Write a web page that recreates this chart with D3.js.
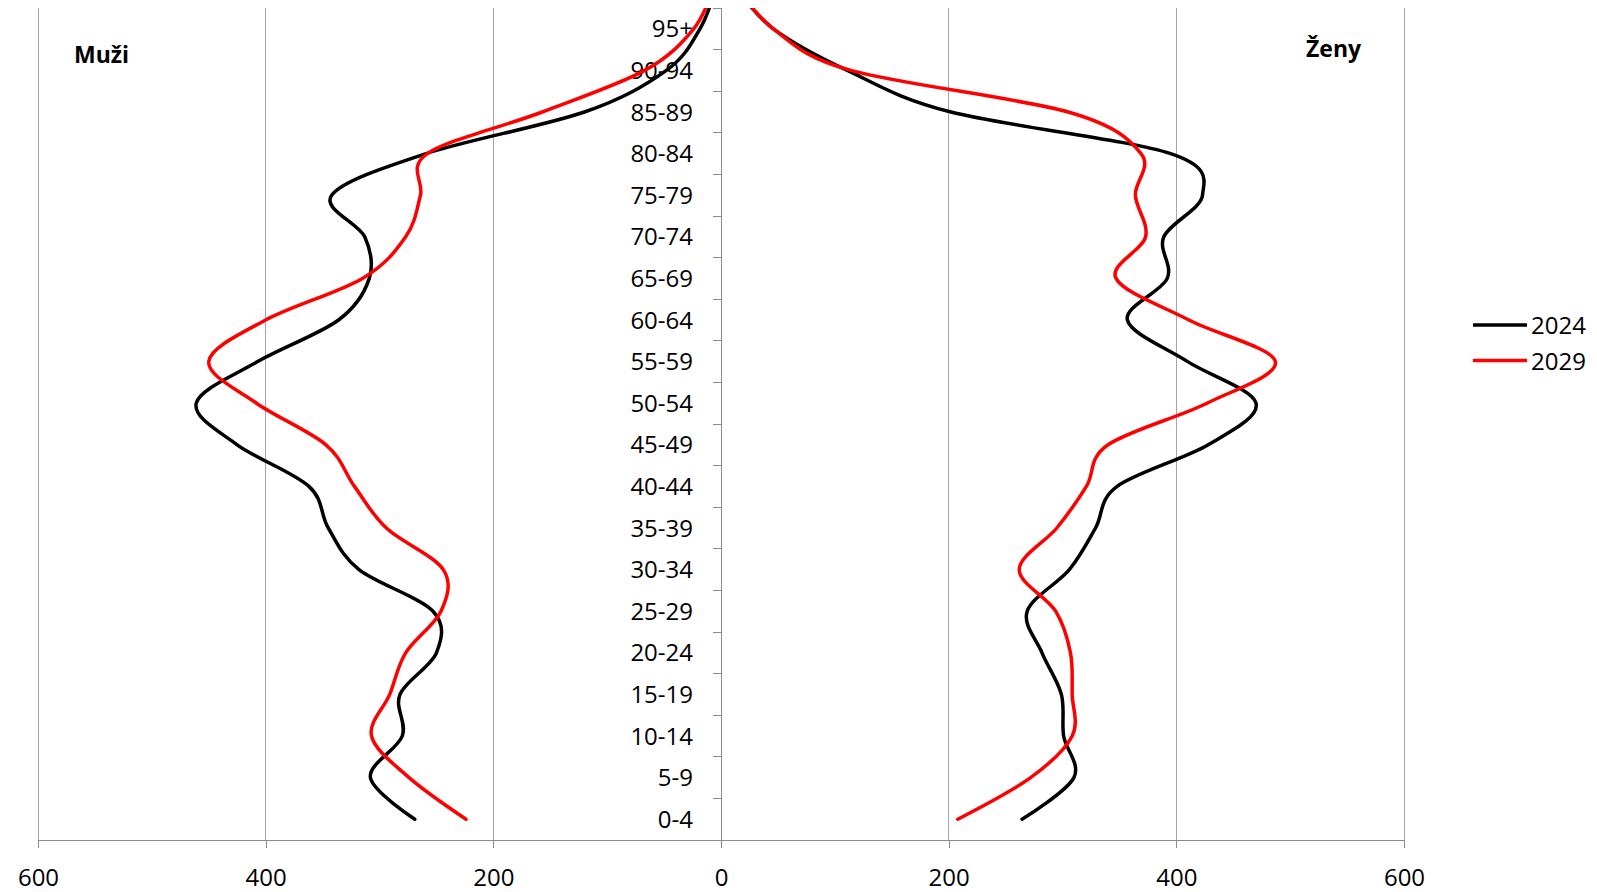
<!DOCTYPE html>
<html>
<head>
<meta charset="utf-8">
<script src="https://cdn.jsdelivr.net/npm/d3@7"></script>
<style>
  html, body { margin: 0; padding: 0; background: #fff; }
  svg { display: block; }
  text { font-family: "Open Sans", "Noto Sans", sans-serif; }
</style>
</head>
<body>
<svg id="chart" width="1597" height="892"></svg>
<script>
// Age groups, bottom to top. The last one ("100+") lies above the plot top and is clipped,
// it only continues the smoothed lines up to the plot edge as in the reference.
const categories = ["0-4","5-9","10-14","15-19","20-24","25-29","30-34","35-39","40-44","45-49",
  "50-54","55-59","60-64","65-69","70-74","75-79","80-84","85-89","90-94","95+","100+"];
const shownCategories = categories.slice(0, 20);

const men2024   = [269, 308, 280, 282, 250, 253, 318, 345, 362, 425, 461, 407, 336, 309, 313, 342, 259, 120, 48, 18.5, 4.6];
const men2029   = [224, 274, 307, 291, 277, 246, 244, 294, 322, 347, 408, 450, 400, 315, 277, 264, 258, 157, 67, 24, 6.6];
const women2024 = [264.5, 310, 301, 299, 282, 269, 306, 329, 348, 428, 470, 410, 357, 392, 389, 423, 395, 202, 111, 46, 13];
const women2029 = [208, 272, 308.5, 308.5, 307, 294, 262, 295, 321, 340, 427, 487, 411, 347, 373, 364, 369, 305, 114, 46, 14.5];

const seriesNames = ["2024", "2029"];
const seriesColors = ["#000000", "#ff0000"];
const xTicks = [-600, -400, -200, 0, 200, 400, 600];
const sideLabels = ["Muži", "Ženy"];

const svg = d3.select("#chart");
const plot = { left: 38, right: 1404, top: 8, bottom: 840 };

// x scale: men negative (left), women positive (right)
const x = d3.scaleLinear().domain([-600, 600]).range([plot.left, plot.right]);
const nShown = shownCategories.length;
const band = (plot.bottom - plot.top) / nShown;
const y = d3.scaleBand().domain(categories)
  .range([plot.bottom, plot.bottom - band * categories.length]).padding(0);
const yc = c => y(c) + y.bandwidth() / 2;

const gridColor = "#a6a6a6";
const axisColor = "#8c8c8c";

// vertical gridlines
svg.append("g").selectAll("line")
  .data(xTicks.filter(v => v !== 0))
  .join("line")
  .attr("x1", d => x(d)).attr("x2", d => x(d))
  .attr("y1", plot.top).attr("y2", plot.bottom)
  .attr("stroke", gridColor).attr("stroke-width", 1)
  .attr("shape-rendering", "crispEdges");

// bottom axis
const xAxis = d3.axisBottom(x).tickValues(xTicks).tickSize(8).tickPadding(6)
  .tickFormat(d => String(Math.abs(d)));
const gx = svg.append("g").attr("transform", `translate(0,${plot.bottom})`).call(xAxis);
gx.select(".domain").attr("stroke", axisColor).attr("shape-rendering", "crispEdges");
gx.selectAll(".tick line").attr("stroke", axisColor).attr("shape-rendering", "crispEdges");
gx.selectAll(".tick text").attr("font-size", 24).attr("fill", "#000")
  .attr("font-family", '"Open Sans", sans-serif').attr("dy", null).attr("y", 46);

// center vertical axis with ticks at band boundaries
svg.append("line")
  .attr("x1", x(0)).attr("x2", x(0)).attr("y1", plot.top).attr("y2", plot.bottom)
  .attr("stroke", axisColor).attr("shape-rendering", "crispEdges");
svg.append("g").selectAll("line")
  .data(shownCategories)
  .join("line")
  .attr("x1", x(0) - 8).attr("x2", x(0))
  .attr("y1", d => y(d)).attr("y2", d => y(d))
  .attr("stroke", axisColor).attr("shape-rendering", "crispEdges");

// category labels
svg.append("g").selectAll("text")
  .data(shownCategories)
  .join("text")
  .attr("x", 693)
  .attr("y", d => yc(d) + 8.6)
  .attr("text-anchor", "end")
  .attr("font-size", 24)
  .attr("fill", "#000")
  .text(d => d);

// side labels
svg.append("text").attr("x", 74).attr("y", 63).attr("font-size", 23).attr("font-weight", "bold")
  .attr("fill", "#000").text(sideLabels[0]);
svg.append("text").attr("x", 1306).attr("y", 57).attr("font-size", 23).attr("font-weight", "bold")
  .attr("fill", "#000").text(sideLabels[1]);

// clip
svg.append("defs").append("clipPath").attr("id", "plotclip")
  .append("rect").attr("x", plot.left).attr("y", plot.top)
  .attr("width", plot.right - plot.left).attr("height", plot.bottom - plot.top);

const lineGen = sign => d3.line()
  .x(d => x(sign * d.v))
  .y(d => yc(d.c))
  .curve(d3.curveCatmullRom.alpha(0));

const toPts = arr => arr.map((v, i) => ({ c: categories[i], v }));

const lines = svg.append("g").attr("clip-path", "url(#plotclip)");
const series = [
  { data: men2024, sign: -1, color: seriesColors[0] },
  { data: women2024, sign: 1, color: seriesColors[0] },
  { data: men2029, sign: -1, color: seriesColors[1] },
  { data: women2029, sign: 1, color: seriesColors[1] }
];
series.forEach(s => {
  lines.append("path")
    .attr("d", lineGen(s.sign)(toPts(s.data)))
    .attr("fill", "none")
    .attr("stroke", s.color)
    .attr("stroke-width", 3.5)
    .attr("stroke-linejoin", "round")
    .attr("stroke-linecap", "round");
});

// legend
const legY = [325, 360.5];
const lg = svg.append("g");
seriesNames.forEach((name, i) => {
  lg.append("line").attr("x1", 1473).attr("x2", 1527).attr("y1", legY[i]).attr("y2", legY[i])
    .attr("stroke", seriesColors[i]).attr("stroke-width", 3.5);
  lg.append("text").attr("x", 1531).attr("y", legY[i] + 9).attr("font-size", 24)
    .attr("fill", "#000").text(name);
});
</script>
</body>
</html>
